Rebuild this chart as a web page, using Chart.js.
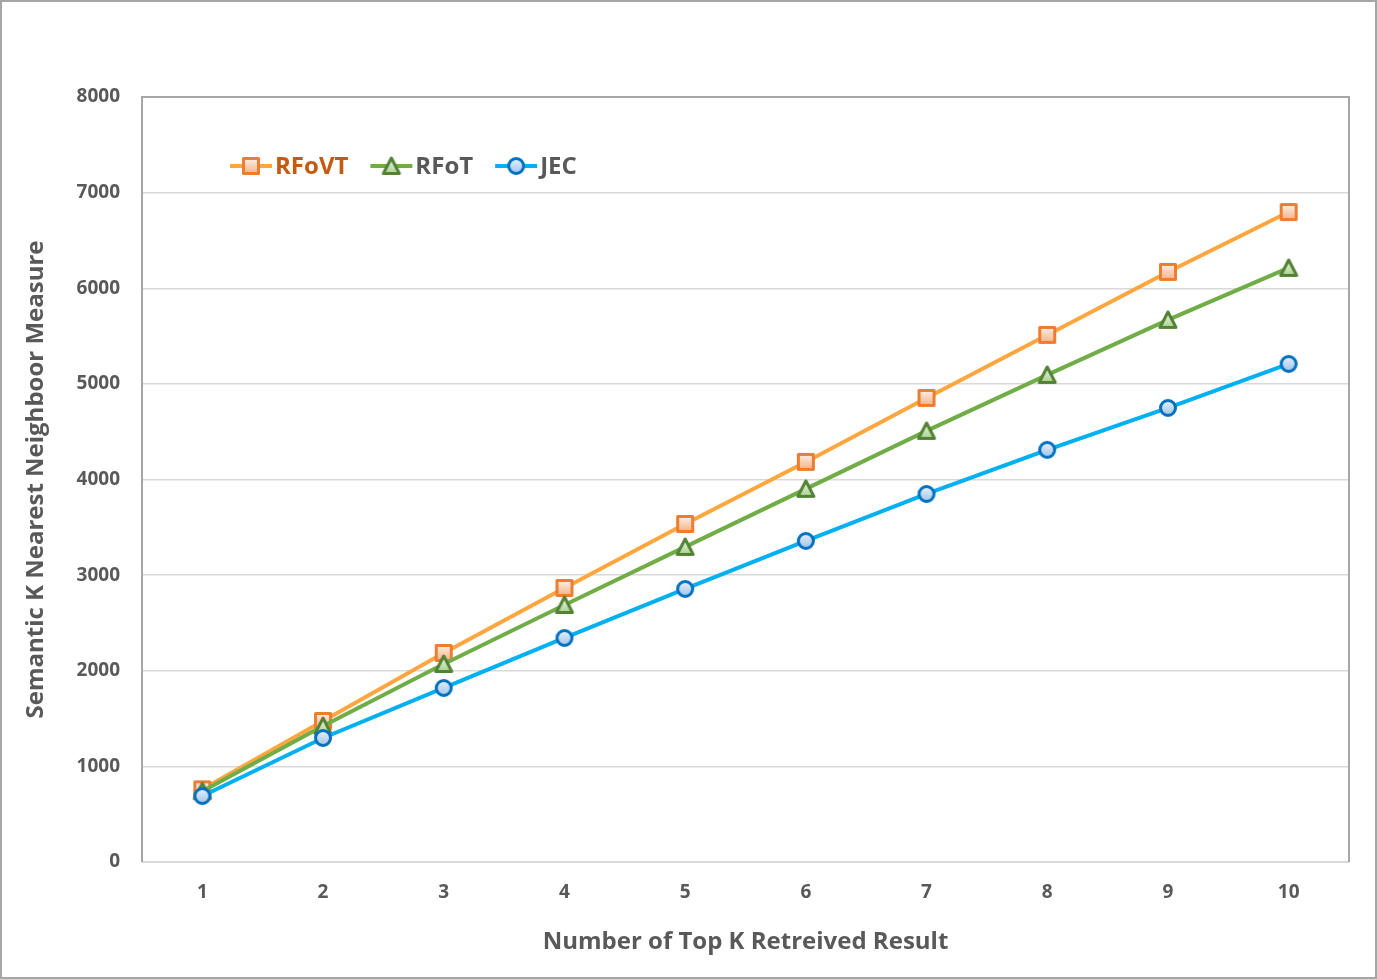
<!DOCTYPE html>
<html>
<head>
<meta charset="utf-8">
<script src="https://cdn.jsdelivr.net/npm/chart.js@4.4.1/dist/chart.umd.min.js"></script>
<style>
  html, body { margin: 0; padding: 0; background: #fff; }
  canvas { display: block; }
</style>
</head>
<body>
<canvas id="c" width="1377" height="979"></canvas>
<script>
const categories = ['1', '2', '3', '4', '5', '6', '7', '8', '9', '10'];
const rfovtValues = [760, 1475, 2186, 2866, 3535, 4184, 4853, 5512, 6171, 6797];
const rfotValues  = [740, 1422, 2071, 2688, 3295, 3902, 4508, 5094, 5669, 6213];
const jecValues   = [690, 1297, 1820, 2343, 2856, 3358, 3849, 4310, 4749, 5209];
const seriesLabels = ['RFoVT', 'RFoT', 'JEC'];
const xTitle = 'Number of Top K Retreived Result';
const yTitle = 'Semantic K Nearest Neighboor Measure';

const FONT = "'Open Sans', 'Noto Sans', sans-serif";
const TEXT = '#595959';

function makeMarker(shape, stroke, c1, c2) {
  const s = 22;
  const cv = document.createElement('canvas');
  cv.width = s; cv.height = s;
  const g = cv.getContext('2d');
  const grad = g.createLinearGradient(0, 3, 0, s - 3);
  grad.addColorStop(0, c1);
  grad.addColorStop(1, c2);
  g.fillStyle = grad;
  g.strokeStyle = stroke;
  g.lineWidth = 3;
  g.lineJoin = 'round';
  g.beginPath();
  if (shape === 'square') {
    g.rect(3.5, 3.5, 15, 15);
  } else if (shape === 'triangle') {
    g.moveTo(11, 3);
    g.lineTo(19, 18.5);
    g.lineTo(3, 18.5);
    g.closePath();
  } else {
    g.arc(11, 11, 7.5, 0, Math.PI * 2);
  }
  g.fill();
  g.stroke();
  return cv;
}

const markers = [
  makeMarker('square', '#ED7D31', '#FDF1EA', '#F4B183'),
  makeMarker('triangle', '#548235', '#EEF6E9', '#A9D18E'),
  makeMarker('circle', '#0070C0', '#EAF2FB', '#9DC3E6')
];
const lineColors = ['#FFA63F', '#70AD47', '#00B0F0'];
const legendTextColors = ['#C55A11', TEXT, TEXT];

const frame = {
  id: 'frame',
  beforeDraw(chart) {
    const ctx = chart.ctx;
    ctx.save();
    ctx.fillStyle = '#fff';
    ctx.fillRect(0, 0, chart.width, chart.height);
    ctx.restore();
  },
  beforeDatasetsDraw(chart) {
    const { ctx, chartArea: a } = chart;
    ctx.save();
    ctx.strokeStyle = '#D9D9D9';
    ctx.lineWidth = 2;
    ctx.beginPath();
    ctx.moveTo(a.left, a.bottom);
    ctx.lineTo(a.right, a.bottom);
    ctx.stroke();
    ctx.strokeStyle = '#A6A6A6';
    ctx.lineWidth = 2;
    ctx.beginPath();
    ctx.moveTo(a.left, a.bottom);
    ctx.lineTo(a.left, a.top);
    ctx.lineTo(a.right, a.top);
    ctx.lineTo(a.right, a.bottom);
    ctx.stroke();
    ctx.restore();
  },
  afterDraw(chart) {
    const { ctx, chartArea: a } = chart;
    ctx.save();
    ctx.strokeStyle = '#A6A6A6';
    ctx.lineWidth = 2;
    ctx.strokeRect(1, 1, chart.width - 2, chart.height - 2);
    let x = a.left + 88;
    const y = 166;
    ctx.font = "bold 24px " + FONT;
    ctx.textBaseline = 'middle';
    chart.data.datasets.forEach((ds, i) => {
      ctx.strokeStyle = lineColors[i];
      ctx.lineWidth = 4;
      ctx.beginPath();
      ctx.moveTo(x, y);
      ctx.lineTo(x + 42, y);
      ctx.stroke();
      ctx.drawImage(markers[i], x + 21 - 11, y - 11);
      ctx.fillStyle = legendTextColors[i];
      ctx.fillText(ds.label, x + 45, y + 1);
      x += 45 + ctx.measureText(ds.label).width + 22;
    });
    ctx.restore();
  }
};

const allValues = [rfovtValues, rfotValues, jecValues];
const drawOrder = [3, 2, 1];
new Chart(document.getElementById('c'), {
  type: 'line',
  data: {
    labels: categories,
    datasets: seriesLabels.map((lab, i) => ({
      label: lab,
      data: allValues[i],
      order: drawOrder[i],
      borderColor: lineColors[i],
      borderWidth: 4,
      pointStyle: markers[i],
      pointRadius: 9,
      pointHoverRadius: 9,
      tension: 0,
      fill: false,
      clip: false
    }))
  },
  options: {
    responsive: false,
    animation: false,
    devicePixelRatio: 1,
    layout: { padding: { left: 22, top: 97, right: 28, bottom: 20 } },
    plugins: {
      legend: { display: false },
      tooltip: { enabled: false }
    },
    scales: {
      x: {
        type: 'category',
        offset: true,
        grid: { display: false, drawTicks: false },
        border: { display: false },
        ticks: { color: TEXT, font: { family: FONT, size: 19, weight: 'bold' }, padding: 19, maxRotation: 0 },
        title: { display: true, text: xTitle, color: TEXT, font: { family: FONT, size: 24, weight: 'bold' }, padding: { top: 0, bottom: 2 } },
        afterFit(s) { s.height = 97; }
      },
      y: {
        min: 0, max: 8000,
        ticks: { stepSize: 1000, color: TEXT, font: { family: FONT, size: 19, weight: 'bold' }, padding: 22,
                 callback: (v) => String(v) },
        grid: { color: '#D9D9D9', lineWidth: 1.5, drawTicks: false },
        border: { display: false },
        title: { display: true, text: yTitle, color: TEXT, font: { family: FONT, size: 24, weight: 'bold' }, padding: { top: 0, bottom: 0 } },
        afterFit(s) { s.width = 120; }
      }
    }
  },
  plugins: [frame]
});
</script>
</body>
</html>
